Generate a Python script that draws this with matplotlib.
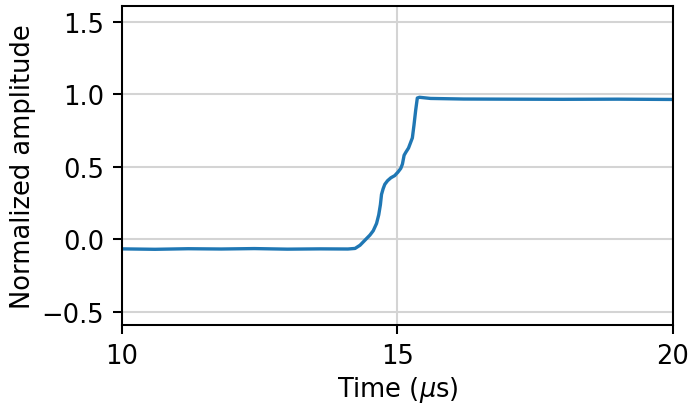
import matplotlib
matplotlib.use('Agg')
import matplotlib.pyplot as plt

# values
time_us = [10.0, 10.6, 11.2, 11.8, 12.4, 13.0, 13.6, 14.1, 14.23, 14.32,
           14.41, 14.5, 14.56, 14.62, 14.66, 14.69, 14.71, 14.74, 14.77,
           14.82, 14.88, 14.95, 15.01, 15.06, 15.09, 15.12, 15.15, 15.2,
           15.23, 15.27, 15.3, 15.33, 15.36, 15.4, 15.6, 16.2, 17.0, 18.0,
           19.0, 20.0]
amplitude = [-0.065, -0.068, -0.064, -0.066, -0.063, -0.067, -0.065, -0.066,
             -0.062, -0.04, -0.005, 0.03, 0.06, 0.11, 0.17, 0.24, 0.31, 0.35,
             0.38, 0.405, 0.425, 0.44, 0.465, 0.49, 0.52, 0.58, 0.6, 0.63,
             0.66, 0.7, 0.79, 0.89, 0.975, 0.98, 0.972, 0.968, 0.967, 0.966,
             0.967, 0.965]

fig, ax = plt.subplots(figsize=(692 / 185, 406 / 185), dpi=185)
fig.subplots_adjust(left=0.1763, right=0.9725, top=0.983, bottom=0.197)

ax.plot(time_us, amplitude, color='#1f77b4', linewidth=1.3)

ax.set_xlim(10, 20)
ax.set_ylim(-0.59, 1.61)
ax.set_xticks([10, 15, 20])
ax.set_yticks([-0.5, 0.0, 0.5, 1.0, 1.5])
ax.grid(True, color='#d4d4d4', linewidth=0.8)
ax.set_xlabel(r'Time ($\mu$s)', labelpad=2)
ax.set_ylabel('Normalized amplitude', labelpad=2)

plt.savefig('out.png', dpi=185)
plt.close()
